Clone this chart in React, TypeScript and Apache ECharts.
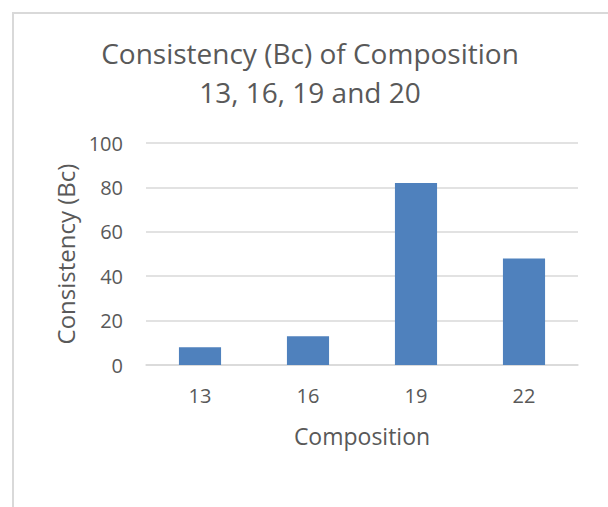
import React, { useEffect, useRef } from "react";
import * as echarts from "echarts";

const categories = ["13", "16", "19", "22"];
const values = [8, 13, 82, 48];
const titleLines = ["Consistency (Bc) of Composition", "13, 16, 19 and 20"];
const xName = "Composition";
const yName = "Consistency (Bc)";

export default function App() {
  const ref = useRef<HTMLDivElement>(null);
  useEffect(() => {
    if (!ref.current) return;
    const chart = echarts.init(ref.current, null, { renderer: "svg" });
    chart.setOption({
      animation: false,
      backgroundColor: "#ffffff",
      graphic: [
        {
          type: "rect",
          shape: { x: 13, y: 13, width: 700, height: 700 },
          style: { fill: "none", stroke: "#d9d9d9", lineWidth: 2 },
          silent: true,
        },
        {
          type: "text",
          x: 310,
          y: 33,
          style: {
            text: titleLines.join("\n"),
            fill: "#595959",
            fontFamily: "Open Sans",
            fontSize: 28,
            align: "center",
            verticalAlign: "top",
            lineHeight: 39,
          },
        },
      ],
      grid: { left: 146, right: 30, top: 143, bottom: 142 },
      xAxis: {
        type: "category",
        data: categories,
        name: xName,
        nameLocation: "middle",
        nameGap: 59,
        nameTextStyle: { color: "#595959", fontSize: 23, fontFamily: "Open Sans" },
        axisLine: { lineStyle: { color: "#d9d9d9", width: 1.5 } },
        axisTick: { show: false },
        axisLabel: { color: "#595959", fontSize: 20, fontFamily: "Open Sans", margin: 20 },
      },
      yAxis: {
        type: "value",
        min: 0,
        max: 100,
        interval: 20,
        name: yName,
        nameLocation: "middle",
        nameGap: 68,
        nameTextStyle: { color: "#595959", fontSize: 24, fontFamily: "Open Sans" },
        axisLine: { show: false },
        axisTick: { show: false },
        splitLine: { lineStyle: { color: "#d9d9d9", width: 1.5 } },
        axisLabel: { color: "#595959", fontSize: 20, fontFamily: "Open Sans", margin: 23 },
      },
      series: [
        {
          type: "bar",
          data: values,
          barWidth: "39%",
          itemStyle: { color: "#4f81bd" },
        },
      ],
    });
    return () => chart.dispose();
  }, []);
  return (
    <div
      ref={ref}
      style={{ position: "fixed", left: 0, top: 0, width: 608, height: 507 }}
    />
  );
}
